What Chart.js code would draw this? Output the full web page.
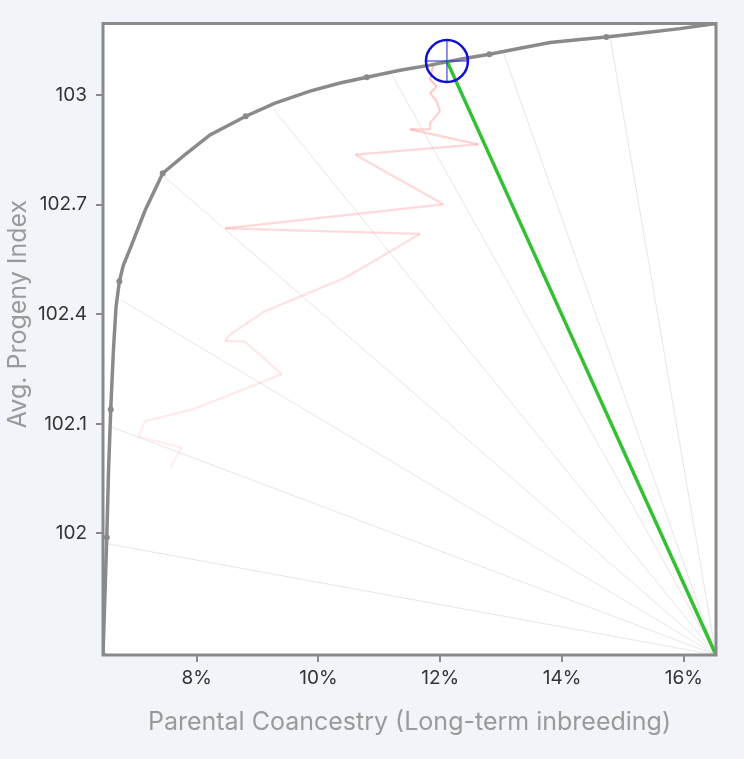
<!DOCTYPE html>
<html>
<head>
<meta charset="utf-8">
<script src="https://cdn.jsdelivr.net/npm/chart.js@4"></script>
<style>
  html, body { margin: 0; padding: 0; background: #f1f4f8; }
  #wrap { width: 744px; height: 759px; position: relative; }
</style>
</head>
<body>
<div id="wrap"><canvas id="frontierChart"></canvas></div>
<script>
// Efficient frontier: parental coancestry (%) vs avg. progeny index
const frontierX = [6.46, 6.494, 6.522, 6.551, 6.587, 6.63, 6.674, 6.729, 6.794, 6.904, 7.151, 7.441,
    7.808, 8.218, 8.805, 9.286, 9.861, 10.354, 10.793, 11.34, 11.833, 12.325, 12.807, 13.311,
    13.804, 14.297, 14.729, 15.282, 15.94, 16.53];
const frontierY = [101.467, 101.644, 101.789, 101.971, 102.139, 102.298, 102.42, 102.49, 102.534,
    102.579, 102.684, 102.786, 102.837, 102.891, 102.942, 102.978, 103.011, 103.033, 103.049,
    103.068, 103.082, 103.098, 103.112, 103.128, 103.144, 103.152, 103.159, 103.169, 103.182, 103.196];
// which frontier vertices carry a dot
const frontierDots = [0, 2, 4, 7, 11, 14, 18, 22, 26, 29];

// optimisation trace (pink)
const traceX = [7.561, 7.754, 7.041, 7.151, 8.0, 9.396, 8.793, 8.465, 8.547, 9.094, 10.464, 11.668,
    8.465, 12.051, 10.6, 12.626, 11.504, 11.833, 11.833, 11.997, 11.943, 11.833, 11.943, 11.833,
    11.887, 12.107];
const traceY = [101.979, 102.034, 102.066, 102.107, 102.143, 102.236, 102.325, 102.327, 102.344,
    102.406, 102.502, 102.62, 102.635, 102.701, 102.837, 102.865, 102.906, 102.906, 102.924,
    102.956, 102.983, 103.005, 103.024, 103.042, 103.083, 103.092];

// rays from the worst corner to the frontier
const cornerX = 16.53;
const cornerY = 101.467;
const rayEndX = [6.548, 6.604, 6.768, 7.451, 9.258, 11.208, 13.043, 14.794];
const rayEndY = [101.771, 102.091, 102.438, 102.779, 102.962, 103.055, 103.114, 103.155];

// chosen solution
const targetX = 12.11;
const targetY = 103.093;

// axes
const xMin = 6.46, xMax = 16.53;
const yMin = 101.467, yMax = 103.196;
const xTickValues = [8, 10, 12, 14, 16];
const yTickValues = [101.8, 102.1, 102.4, 102.7, 103.0];
const yTickLabels = ['102', '102.1', '102.4', '102.7', '103'];
const yTitle = 'Avg. Progeny Index';

const pts = (xs, ys) => xs.map((x, i) => ({ x: x, y: ys[i] }));

const rayDatasets = rayEndX.map((x, i) => ({
    data: [{ x: cornerX, y: cornerY }, { x: x, y: rayEndY[i] }],
    showLine: true,
    borderColor: 'rgba(200, 200, 200, 0.45)',
    borderWidth: 1,
    pointRadius: 0,
    order: 5
}));

const plotArea = {
    id: 'plotArea',
    beforeDraw(chart) {
        const { ctx, chartArea: a } = chart;
        ctx.save();
        ctx.fillStyle = '#ffffff';
        ctx.fillRect(a.left, a.top, a.right - a.left, a.bottom - a.top);
        ctx.restore();
    },
    afterDraw(chart) {
        const { ctx, chartArea: a } = chart;
        ctx.save();
        ctx.strokeStyle = '#8a8a8a';
        ctx.lineWidth = 3;
        ctx.strokeRect(a.left, a.top, a.right - a.left, a.bottom - a.top);
        // y axis title, sits a bit above the middle of the plot
        ctx.translate(18, a.top + (a.bottom - a.top) * 0.46);
        ctx.rotate(-Math.PI / 2);
        ctx.fillStyle = '#9a9a9a';
        ctx.font = '25px Inter';
        ctx.textAlign = 'center';
        ctx.textBaseline = 'middle';
        ctx.fillText(yTitle, 0, 0);
        ctx.restore();
    }
};

const nTrace = traceX.length;

const config = {
    type: 'scatter',
    data: {
        datasets: [
            {
                // target marker circle
                data: [{ x: targetX, y: targetY }],
                pointStyle: 'circle',
                pointRadius: 21,
                pointBorderWidth: 2.5,
                pointBorderColor: '#1010d0',
                pointBackgroundColor: 'rgba(0,0,0,0)',
                order: 0
            },
            {
                data: [{ x: targetX, y: targetY }],
                pointStyle: 'cross',
                pointRadius: 21,
                pointBorderWidth: 1.5,
                pointBorderColor: 'rgba(40, 40, 220, 0.7)',
                order: 0
            },
            {
                // chosen trade-off line
                data: [{ x: cornerX, y: cornerY }, { x: targetX, y: targetY }],
                showLine: true,
                borderColor: '#33c033',
                borderWidth: 3.5,
                pointRadius: 0,
                order: 1
            },
            {
                data: pts(frontierX, frontierY),
                showLine: true,
                borderColor: '#8a8a8a',
                borderWidth: 3.5,
                pointRadius: ctx => frontierDots.includes(ctx.dataIndex) ? 3 : 0,
                pointBackgroundColor: '#8a8a8a',
                pointBorderWidth: 0,
                order: 2
            },
            {
                data: pts(traceX, traceY),
                showLine: true,
                borderWidth: 2.2,
                pointRadius: 0,
                segment: {
                    borderColor: ctx => 'rgba(255, 150, 150, ' + (0.12 + 0.45 * ctx.p1DataIndex / nTrace).toFixed(2) + ')'
                },
                order: 3
            },
            ...rayDatasets
        ]
    },
    options: {
        responsive: true,
        maintainAspectRatio: false,
        animation: false,
        layout: { padding: { top: 20, right: 28, left: 0, bottom: 20 } },
        plugins: {
            legend: { display: false },
            tooltip: { enabled: false }
        },
        scales: {
            x: {
                type: 'linear',
                min: xMin,
                max: xMax,
                afterFit: s => { s.height = 84; },
                afterBuildTicks: s => { s.ticks = xTickValues.map(v => ({ value: v })); },
                ticks: {
                    callback: v => v + '%',
                    color: '#333333',
                    font: { family: 'Inter', size: 19 },
                    padding: 5,
                    maxRotation: 0
                },
                grid: { drawOnChartArea: false, drawTicks: true, tickLength: 7, color: '#8a8a8a', lineWidth: 2 },
                border: { display: false },
                title: {
                    display: true,
                    text: 'Parental Coancestry (Long-term inbreeding)',
                    color: '#9a9a9a',
                    font: { family: 'Inter', size: 25 },
                    padding: { top: 2, bottom: 2 }
                }
            },
            y: {
                type: 'linear',
                min: yMin,
                max: yMax,
                afterFit: s => { s.width = 103; },
                afterBuildTicks: s => { s.ticks = yTickValues.map(v => ({ value: v })); },
                ticks: {
                    callback: (v, i) => yTickLabels[i],
                    color: '#333333',
                    font: { family: 'Inter', size: 19 },
                    padding: 9
                },
                grid: { drawOnChartArea: false, drawTicks: true, tickLength: 7, color: '#8a8a8a', lineWidth: 2 },
                border: { display: false },
                title: { display: false }
            }
        }
    },
    plugins: [plotArea]
};

const frontierChart = new Chart(document.getElementById('frontierChart').getContext('2d'), config);
</script>
</body>
</html>
